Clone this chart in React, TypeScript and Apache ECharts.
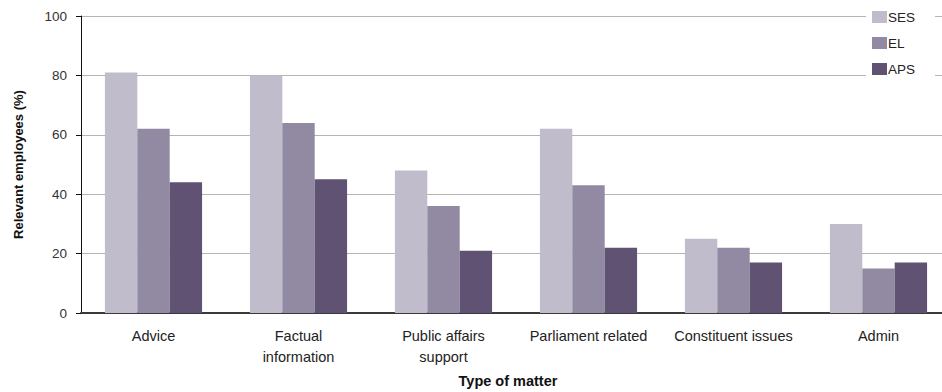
import React, { useEffect, useRef } from "react";
import * as echarts from "echarts";

const categories = [
  "Advice",
  "Factual\ninformation",
  "Public affairs\nsupport",
  "Parliament related",
  "Constituent issues",
  "Admin",
];
const sesValues = [81, 80, 48, 62, 25, 30];
const elValues = [62, 64, 36, 43, 22, 15];
const apsValues = [44, 45, 21, 22, 17, 17];
const seriesNames = ["SES", "EL", "APS"];
const seriesColors = ["#c0bccc", "#918aa2", "#605272"];

const FONT = "'Liberation Sans', Arial, sans-serif";

export default function App() {
  const ref = useRef<HTMLDivElement>(null);
  useEffect(() => {
    if (!ref.current) return;
    const chart = echarts.init(ref.current, undefined, { renderer: "svg" });
    const data = [sesValues, elValues, apsValues];
    chart.setOption({
      animation: false,
      backgroundColor: "#ffffff",
      textStyle: { fontFamily: FONT },
      grid: {
        left: 81,
        top: 16,
        width: 870,
        height: 297,
        containLabel: false,
        outerBoundsMode: "none",
      },
      legend: {
        orient: "vertical",
        left: 866,
        top: 4,
        itemWidth: 15,
        itemHeight: 12,
        itemGap: 12,
        padding: [6, 20, 6, 6],
        backgroundColor: "#ffffff",
        icon: "rect",
        textStyle: {
          fontFamily: FONT,
          fontSize: 13.5,
          color: "#222",
          padding: [0, 0, 0, -4],
        },
        data: seriesNames,
      },
      xAxis: {
        type: "category",
        data: categories,
        name: "Type of matter",
        nameLocation: "middle",
        nameGap: 60,
        nameTextStyle: {
          fontFamily: FONT,
          fontSize: 14.5,
          fontWeight: "bold",
          color: "#111",
          padding: [0, 16, 0, 0],
        },
        axisLine: { lineStyle: { color: "#3a3a3a", width: 2 } },
        axisTick: { show: false },
        axisLabel: {
          fontFamily: FONT,
          fontSize: 14.5,
          color: "#222",
          margin: 12,
          lineHeight: 21,
          interval: 0,
        },
      },
      yAxis: {
        type: "value",
        min: 0,
        max: 100,
        interval: 20,
        name: "Relevant employees (%)",
        nameLocation: "middle",
        nameGap: 56,
        nameTextStyle: {
          fontFamily: FONT,
          fontSize: 13,
          fontWeight: "bold",
          color: "#111",
        },
        axisLine: { show: true, lineStyle: { color: "#111", width: 1 } },
        axisTick: { show: true, length: 5, lineStyle: { color: "#111" } },
        axisLabel: { fontFamily: FONT, fontSize: 13.5, color: "#333", margin: 14 },
        splitLine: { lineStyle: { color: "#b4b4b4", width: 1 } },
      },
      series: seriesNames.map((name, i) => ({
        name,
        type: "bar",
        data: data[i],
        barGap: "0%",
        barCategoryGap: "33%",
        itemStyle: { color: seriesColors[i] },
      })),
    });
    return () => chart.dispose();
  }, []);
  return (
    <div
      ref={ref}
      style={{ position: "fixed", left: 0, top: 0, width: 942, height: 392 }}
    />
  );
}
